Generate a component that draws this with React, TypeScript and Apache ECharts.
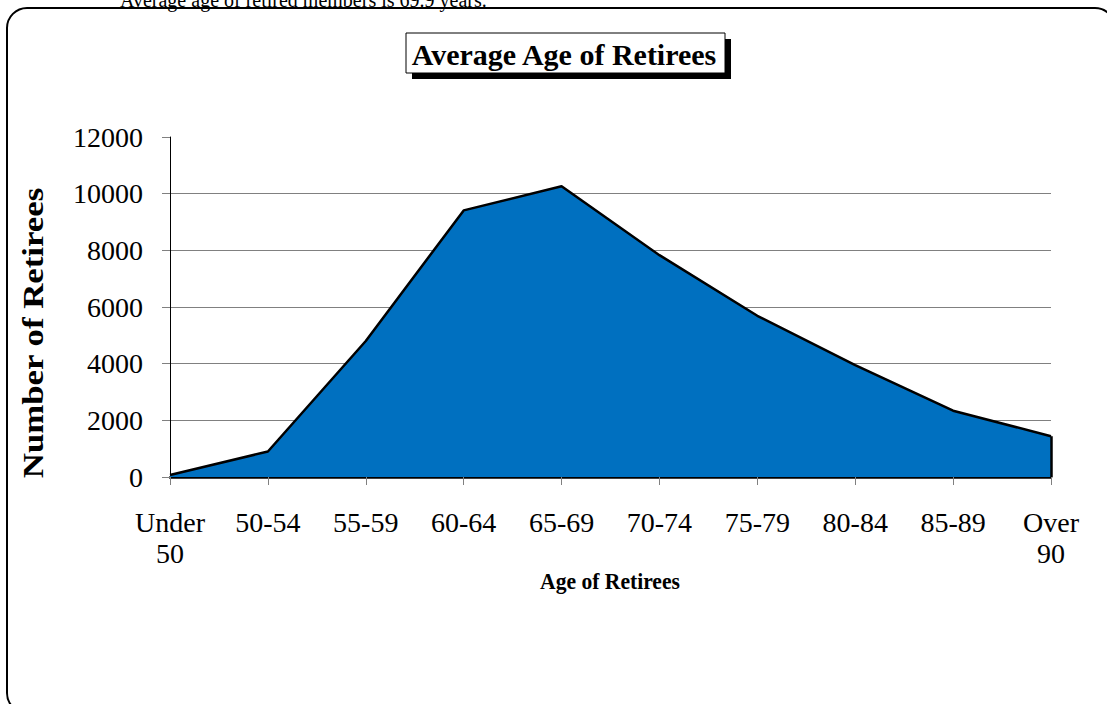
import React, { useEffect, useRef } from "react";
import * as echarts from "echarts";

const categories = ["Under\n50", "50-54", "55-59", "60-64", "65-69", "70-74", "75-79", "80-84", "85-89", "Over\n90"];
const retirees = [70, 900, 4800, 9410, 10260, 7830, 5690, 3950, 2340, 1440];
const yTicks = { min: 0, max: 12000, interval: 2000 };
const titleText = "Average Age of Retirees";
const xName = "Age of Retirees";
const yName = "Number of Retirees";
const noteText = "Average age of retired members is 69.9 years.";

const FONT = "'Liberation Serif', 'Times New Roman', serif";

export default function App() {
  const ref = useRef<HTMLDivElement>(null);
  useEffect(() => {
    if (!ref.current) return;
    const chart = echarts.init(ref.current, null, { renderer: "svg" });
    const last = categories.length - 1;
    chart.setOption({
      animation: false,
      backgroundColor: "#ffffff",
      textStyle: { fontFamily: FONT },
      grid: { left: 170, right: 56, top: 137, bottom: 227, containLabel: false },
      xAxis: {
        type: "category",
        data: categories,
        boundaryGap: false,
        axisLine: { show: true, lineStyle: { color: "#000", width: 2.5 } },
        axisTick: { show: true, alignWithLabel: true, length: 8, lineStyle: { color: "#808080" } },
        axisLabel: { color: "#000", fontSize: 28, fontFamily: FONT, margin: 30, lineHeight: 31, interval: 0 },
        splitLine: { show: false },
      },
      yAxis: {
        type: "value",
        min: yTicks.min,
        max: yTicks.max,
        interval: yTicks.interval,
        axisLine: { show: true, lineStyle: { color: "#000", width: 1 } },
        axisTick: { show: true, length: 8, lineStyle: { color: "#808080" } },
        axisLabel: { color: "#000", fontSize: 28, fontFamily: FONT, margin: 27, formatter: (v: number) => String(v) },
        splitLine: { show: true, showMaxLine: false, showMinLine: false, lineStyle: { color: "#808080", width: 1 } },
      },
      series: [
        {
          type: "line",
          data: retirees,
          symbol: "none",
          lineStyle: { color: "#000", width: 2.5 },
          areaStyle: { color: "#0070C0", opacity: 1 },
          markLine: {
            silent: true,
            symbol: "none",
            label: { show: false },
            lineStyle: { color: "#000", width: 2.5, type: "solid" },
            data: [[{ coord: [last, 0] }, { coord: [last, retirees[last]] }]],
          },
        },
      ],
      graphic: [
        {
          type: "rect",
          shape: { x: 7, y: 8, width: 1108, height: 705, r: 20 },
          style: { fill: "none", stroke: "#000", lineWidth: 2 },
          silent: true,
          z: -1,
        },
        {
          type: "text",
          x: 120,
          y: -10,
          style: { text: noteText, font: `20px ${FONT}`, fill: "#000", textAlign: "left", textVerticalAlign: "top" },
        },
        {
          type: "rect",
          shape: { x: 412, y: 39, width: 319, height: 40 },
          style: { fill: "#000", stroke: "none" },
        },
        {
          type: "rect",
          shape: { x: 406, y: 33, width: 319, height: 40 },
          style: { fill: "#fff", stroke: "#000", lineWidth: 1 },
        },
        {
          type: "text",
          x: 564,
          y: 54,
          style: { text: titleText, font: `bold 30px ${FONT}`, fill: "#000", textAlign: "center", textVerticalAlign: "middle" },
        },
        {
          type: "text",
          x: 33,
          y: 333,
          rotation: Math.PI / 2,
          scaleX: 1.2,
          style: { text: yName, font: `bold 29px ${FONT}`, fill: "#000", textAlign: "center", textVerticalAlign: "middle" },
        },
        {
          type: "text",
          x: 610,
          y: 581,
          scaleX: 0.9,
          style: { text: xName, font: `bold 24px ${FONT}`, fill: "#000", textAlign: "center", textVerticalAlign: "middle" },
        },
      ],
    });
    return () => chart.dispose();
  }, []);
  return (
    <div
      ref={ref}
      style={{ position: "absolute", left: 0, top: 0, width: 1107, height: 704 }}
    />
  );
}
